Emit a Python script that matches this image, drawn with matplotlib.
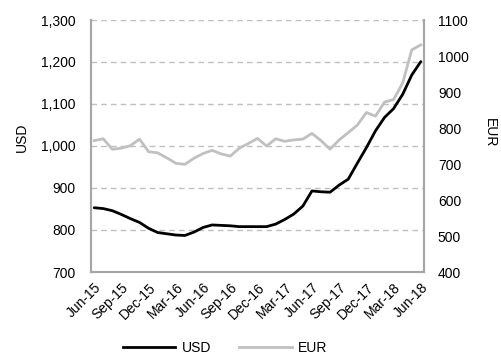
import matplotlib
matplotlib.use("Agg")
import matplotlib.pyplot as plt
from matplotlib.ticker import FuncFormatter, FixedLocator

plt.rcParams['font.family'] = ['Liberation Sans', 'DejaVu Sans']

# Monthly series, Jun-15 .. Jun-18
usd = [853, 851, 846, 837, 827, 818, 804, 794, 791, 788, 787, 795, 806,
       812, 811, 810, 808, 808, 808, 808, 814, 825, 838, 857, 893, 891,
       890, 907, 921, 959, 996, 1036, 1068, 1089, 1123, 1169, 1201]
eur = [765, 770, 741, 744, 751, 769, 734, 731, 717, 702, 699, 716, 729,
       738, 728, 722, 744, 757, 771, 750, 770, 763, 767, 769, 785, 765,
       741, 767, 787, 808, 843, 833, 872, 879, 925, 1017, 1031]
tick_labels = ['Jun-15', 'Sep-15', 'Dec-15', 'Mar-16', 'Jun-16', 'Sep-16',
               'Dec-16', 'Mar-17', 'Jun-17', 'Sep-17', 'Dec-17', 'Mar-18',
               'Jun-18']

x = list(range(len(usd)))

fig = plt.figure(figsize=(5.01, 3.58), dpi=100)
ax = fig.add_axes([91 / 501, 1 - 272 / 358, (424 - 91) / 501, (272 - 20) / 358])
ax2 = ax.twinx()

spine_col = '#a6a6a6'
grid_col = '#bfbfbf'

ax.plot(x, usd, color='black', lw=2.0, solid_capstyle='round', zorder=3)
ax2.plot(x, eur, color='#c0c0c0', lw=2.0, zorder=3)

ax.set_xlim(-0.35, len(x) - 1 + 0.35)
ax.set_ylim(700, 1300)
ax2.set_ylim(400, 1100)

ax.yaxis.set_major_locator(FixedLocator(range(700, 1301, 100)))
ax.yaxis.set_major_formatter(FuncFormatter(lambda v, p: f"{int(v):,}"))
ax2.yaxis.set_major_locator(FixedLocator(range(400, 1101, 100)))

for yv in range(800, 1301, 100):
    ax.axhline(yv, color=grid_col, lw=1.0, ls=(0, (4, 3)), zorder=1)

ax.set_xticks(x[::3])
ax.set_xticklabels(tick_labels, rotation=45, ha='right', rotation_mode='anchor')

for a in (ax, ax2):
    a.spines['top'].set_visible(False)
    for s in ('left', 'right', 'bottom'):
        a.spines[s].set_color(spine_col)
        a.spines[s].set_linewidth(1.5)
    a.tick_params(length=0, labelsize=10, colors='black')

ax.tick_params(axis='y', pad=11)
ax2.tick_params(axis='y', pad=10)
ax.tick_params(axis='x', pad=6)

fig.text(22 / 501, 1 - 137 / 358, 'USD', rotation=90, ha='center', va='center', fontsize=10)
fig.text(490 / 501, 1 - 133 / 358, 'EUR', rotation=-90, ha='center', va='center', fontsize=10)

h1, = ax.plot([], [], color='black', lw=2.0)
h2, = ax.plot([], [], color='#c0c0c0', lw=2.0)
fig.legend([h1, h2], ['USD', 'EUR'], loc='center', ncol=2, frameon=False,
           bbox_to_anchor=(225 / 501, 1 - 348 / 358), fontsize=10,
           handlelength=3.8, handletextpad=0.45, columnspacing=2.0)

fig.savefig('out.png', dpi=100)
